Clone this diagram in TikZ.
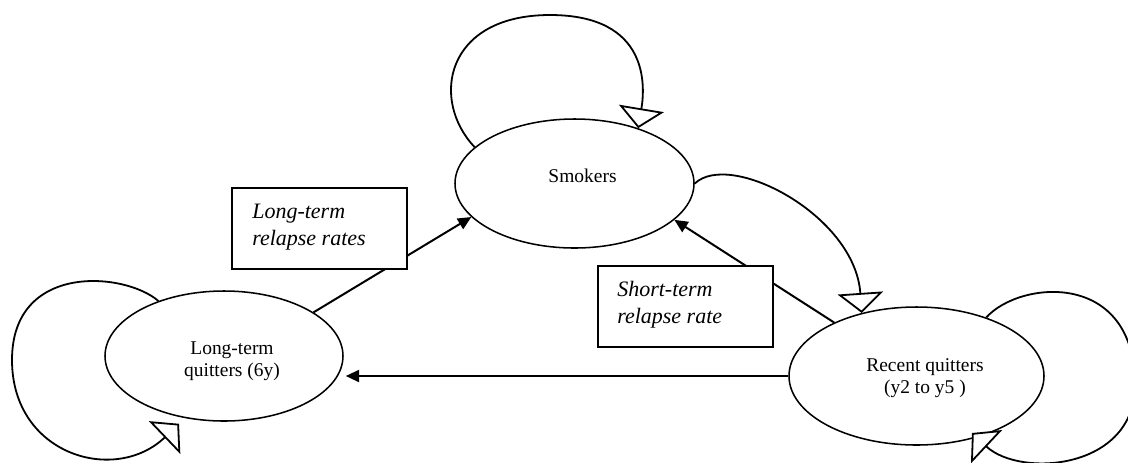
\documentclass[tikz,border=0pt]{standalone}
\usepackage{fontspec}
\setmainfont{Liberation Serif}
\usetikzlibrary{arrows.meta,shapes.geometric}
\begin{document}
\begin{tikzpicture}[x=0.75pt,y=-0.75pt,
  stateellipse/.style={draw, ellipse, line width=1.15pt, inner sep=0pt},
  statetext/.style={font=\fontsize{14.6pt}{16.5pt}\selectfont, align=center, inner sep=0pt},
  ratebox/.style={draw, fill=white, line width=1.15pt, minimum width=131.25pt, minimum height=60.75pt, inner sep=0pt},
  ratetext/.style={font=\fontsize{16.5pt}{20.25pt}\selectfont\itshape, align=left, inner sep=0pt, anchor=west},
  flow/.style={line width=1.5pt, -{Triangle[length=10pt,width=9pt]}},
  selfloop/.style={line width=1.35pt, -{Triangle[length=15pt,width=34pt,fill=white]}}]
\clip (0,0) rectangle (1128,462);
\fill[white] (0,0) rectangle (1128,462);
% states
\node[stateellipse, minimum width=179.25pt, minimum height=96.75pt] (sm) at (574.5,183.5) {};
\node[stateellipse, minimum width=178.5pt, minimum height=97.5pt] (ltq) at (224,356) {};
\node[stateellipse, minimum width=191.25pt, minimum height=103.5pt] (rq) at (916.5,376) {};
% loops
\draw[selfloop] (sm.160.9) .. controls (430,100) and (445,15) .. (550,15)
  .. controls (650,15) and (645,87) .. (sm.41.3);
\draw[selfloop] (sm.east) .. controls (730,150) and (855,215) .. (rq.131.8);
\draw[selfloop] (ltq.140.7) .. controls (125,272) and (12,262) .. (12,360)
  .. controls (12,455) and (115,485) .. ([shift={(-45,2)}]ltq.south);
\draw[selfloop] (rq.40.6) .. controls (1020,280) and (1135,270) .. (1135,385)
  .. controls (1135,470) and (1020,478) .. ([shift={(55.5,57)}]rq.center);
% flows
\draw[flow] (ltq.26) -- (sm.198.8);
\draw[flow] (rq.147.9) -- (sm.340.6);
\draw[flow, shorten >=1.5pt] (rq.west) -- (ltq.east |- rq.west);
% rate boxes
\node[ratebox] (lrb) at (319.5,228.5) {};
\node[ratebox] (srb) at (685.5,306.5) {};
\node[ratetext] (lrt) at (252,226.7) {Long-term\\relapse rates};
\node[ratetext] (srt) at (617,304.4) {Short-term\\relapse rate};
% state labels
\node[statetext] (smt) at (582.5,175.5) {Smokers};
\node[statetext] (ltqt) at (232,361.6) {Long-term\\quitters (6y)};
\node[statetext] (rqt) at (925,378) {Recent quitters\\(y2 to y5 )};
\end{tikzpicture}
\end{document}
